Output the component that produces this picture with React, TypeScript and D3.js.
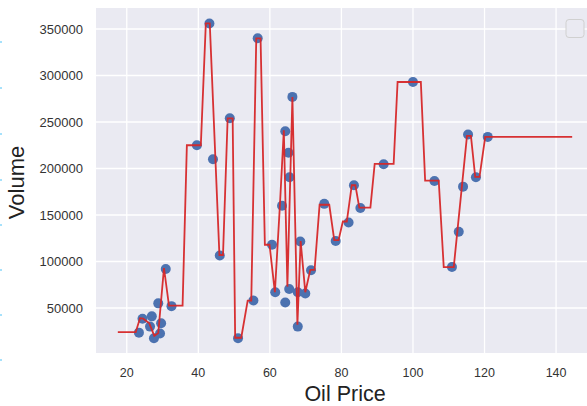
import React from "react";
import * as d3 from "d3";

const oilPrice = [23.4, 24.4, 26.5, 27.0, 27.6, 28.8, 29.3, 29.6, 30.9, 32.5, 39.6, 43.1, 44.1, 46.0, 48.8, 51.1, 55.4, 56.6, 60.6, 61.5, 63.4, 64.3, 64.3, 65.2, 65.4, 65.5, 66.3, 67.8, 67.8, 68.5, 69.9, 71.5, 75.2, 78.4, 82.0, 83.5, 85.3, 91.8, 100.0, 106.0, 110.9, 112.8, 114.0, 115.4, 117.6, 120.9];
const volume = [23500, 38500, 30000, 41000, 17500, 55000, 22500, 33500, 92000, 52000, 225000, 356000, 210000, 106500, 254000, 17500, 58000, 340000, 118000, 67000, 160000, 240000, 56000, 217000, 70500, 190500, 277000, 67000, 30000, 121500, 65500, 90500, 162000, 122000, 142000, 182000, 157500, 204500, 293000, 186500, 94000, 132000, 180500, 236500, 190500, 234000];

const fitX = [17.5, 22.5, 23.7, 24.6, 26.3, 27.7, 28.8, 30.4, 31.8, 35.6, 36.8, 40.7, 42.1, 43.2, 45.9, 46.9, 48.2, 49.6, 50.3, 52.0, 53.8, 54.8, 56.2, 57.4, 58.6, 59.9, 61.4, 62.8, 63.9, 64.9, 66.3, 67.7, 68.6, 69.9, 71.3, 72.5, 73.9, 76.6, 78.0, 79.2, 80.4, 81.5, 82.9, 83.9, 85.0, 88.1, 89.3, 94.6, 95.7, 102.2, 103.4, 107.2, 108.6, 111.4, 115.1, 116.2, 117.4, 118.6, 120.2, 144.5];
const fitY = [24000, 24000, 39000, 38500, 33500, 20000, 23000, 93000, 52500, 52500, 225000, 225000, 356000, 356000, 107000, 107000, 254000, 254000, 18000, 18000, 58000, 58000, 340000, 340000, 118000, 118000, 67000, 160000, 241000, 73000, 277000, 32000, 122000, 67000, 91000, 91000, 161000, 161000, 123000, 123000, 143000, 143000, 182000, 182000, 158000, 158000, 205000, 205000, 293000, 293000, 187000, 187000, 94000, 94000, 235000, 235000, 191000, 191000, 234000, 234000];

const xTicks = [20, 40, 60, 80, 100, 120, 140];
const yTicks = [50000, 100000, 150000, 200000, 250000, 300000, 350000];
const edgeMarks = [42, 88, 134, 180, 225, 270, 315, 360];

const W = 587, H = 406;
const L = 96, T = 8, B = 353, R = 599;

export default function App() {
  const x = d3.scaleLinear().domain([11.4, 152]).range([L, R]);
  const y = d3.scaleLinear().domain([1600, 372600]).range([B, T]);
  const line = d3.line<number>().x((_, i) => x(fitX[i])).y((d) => y(d));
  const font = "'Liberation Sans', Arial, sans-serif";
  return (
    <svg width={W} height={H} style={{ position: "absolute", left: 0, top: 0, background: "#fff" }}>
      <defs>
        <clipPath id="pa"><rect x={L} y={T} width={R - L} height={B - T} /></clipPath>
      </defs>
      {edgeMarks.map((m) => (
        <line key={m} x1={0} x2={2} y1={m} y2={m} stroke="#4fc3f7" strokeWidth={1} />
      ))}
      <rect x={L} y={T} width={R - L} height={B - T} fill="#EAEAF2" />
      {xTicks.map((t) => (
        <line key={"gx" + t} x1={x(t)} x2={x(t)} y1={T} y2={B} stroke="#fff" strokeWidth={1.3} />
      ))}
      {yTicks.map((t) => (
        <line key={"gy" + t} x1={L} x2={R} y1={y(t)} y2={y(t)} stroke="#fff" strokeWidth={1.3} />
      ))}
      <g clipPath="url(#pa)">
        {oilPrice.map((v, i) => (
          <circle key={i} cx={x(v)} cy={y(volume[i])} r={5} fill="#4C72B0" />
        ))}
        <path d={line(fitY) || ""} fill="none" stroke="#d62728" strokeOpacity={0.95} strokeWidth={1.8} strokeLinejoin="miter" />
      </g>
      {xTicks.map((t) => (
        <text key={"tx" + t} x={x(t)} y={376.5} textAnchor="middle" fontFamily={font} fontSize={12.5} fill="#333">{t}</text>
      ))}
      {yTicks.map((t) => (
        <text key={"ty" + t} x={83} y={y(t)} dy="0.35em" textAnchor="end" fontFamily={font} fontSize={13} fill="#333">{t}</text>
      ))}
      <text x={345} y={400.5} textAnchor="middle" fontFamily={font} fontSize={21.5} fill="#222">Oil Price</text>
      <text transform="translate(24,182.5) rotate(-90)" textAnchor="middle" fontFamily={font} fontSize={22} fill="#222">Volume</text>
      <rect x={566} y={19.5} width={18} height={18} rx={3} fill="#EAEAF2" stroke="#d0d0d0" strokeWidth={1} />
    </svg>
  );
}
